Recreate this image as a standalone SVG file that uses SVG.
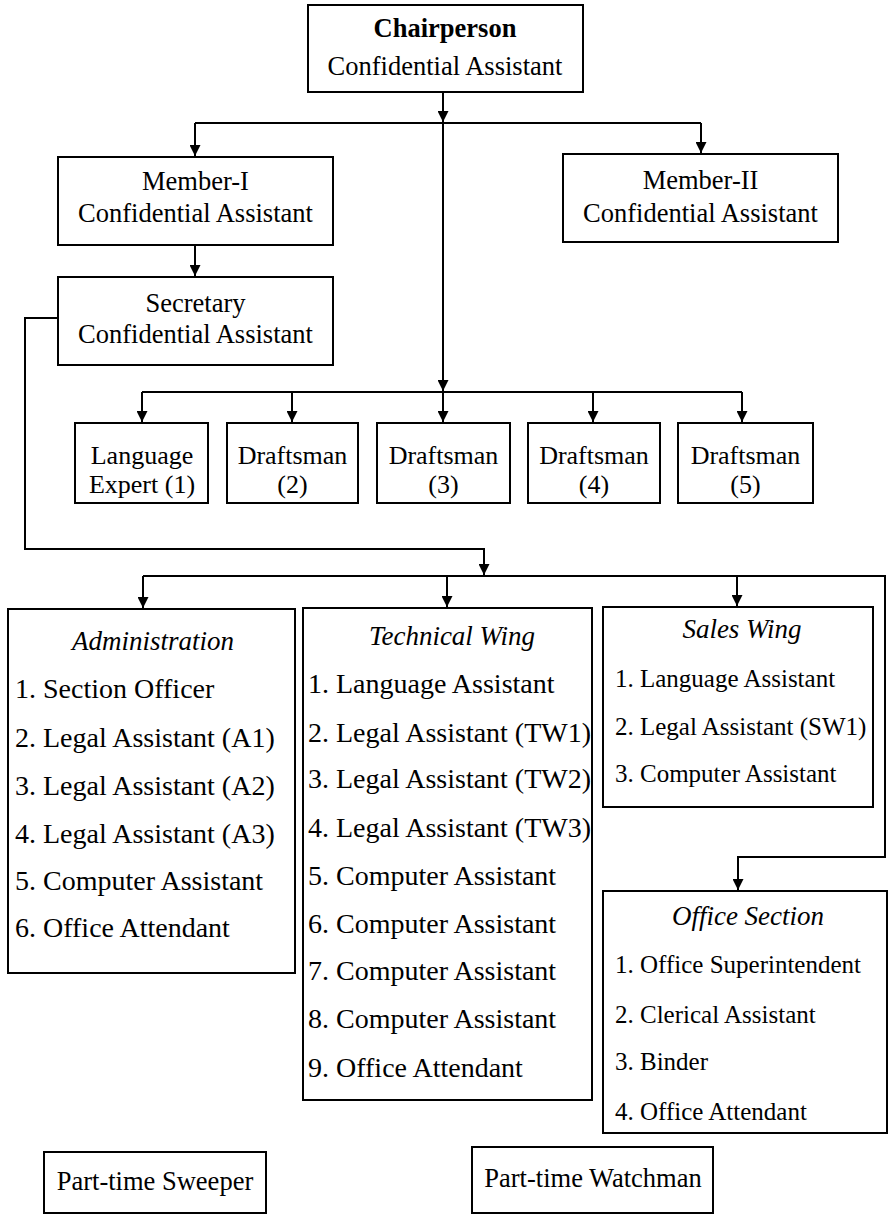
<svg xmlns="http://www.w3.org/2000/svg" width="890" height="1214" viewBox="0 0 890 1214">
<style>
text{font-family:"Liberation Serif","Times New Roman",serif;fill:#000;}
.box{fill:#fff;stroke:#000;stroke-width:2;}
.t{font-size:26.5px;text-anchor:middle;}
.b{font-weight:bold;}
.s{font-size:26px;text-anchor:middle;}
.h{font-size:27px;font-style:italic;text-anchor:middle;}
.li{font-size:28px;}
.ls{font-size:25px;}
.conn path{fill:none;stroke:#000;stroke-width:2;}
</style>
<defs>
<marker id="arr" viewBox="0 0 10 10" refX="10" refY="5" markerWidth="11" markerHeight="11" orient="auto" markerUnits="userSpaceOnUse">
<path d="M0,0 L10,5 L0,10 z" fill="#000"/>
</marker>
</defs>
<rect width="890" height="1214" fill="#fff"/>
<g id="connectors" class="conn">
<path d="M443,92 V122" marker-end="url(#arr)"/>
<path d="M195,123 H701"/>
<path d="M195,123 V156" marker-end="url(#arr)"/>
<path d="M701,123 V153" marker-end="url(#arr)"/>
<path d="M443,123 V391" marker-end="url(#arr)"/>
<path d="M195,245 V276" marker-end="url(#arr)"/>
<path d="M142,392 H742"/>
<path d="M142,392 V422" marker-end="url(#arr)"/>
<path d="M292,392 V422" marker-end="url(#arr)"/>
<path d="M443,392 V422" marker-end="url(#arr)"/>
<path d="M593,392 V422" marker-end="url(#arr)"/>
<path d="M742,392 V422" marker-end="url(#arr)"/>
<path d="M58,318 H25 V549 H484 V575" marker-end="url(#arr)"/>
<path d="M143,576 H885 V857 H738 V890" marker-end="url(#arr)"/>
<path d="M143,576 V608" marker-end="url(#arr)"/>
<path d="M447,576 V607" marker-end="url(#arr)"/>
<path d="M737,576 V606" marker-end="url(#arr)"/>
</g>
<g id="chairperson">
<rect class="box" x="308" y="5" width="275" height="87"/>
<text class="t b" x="445" y="37">Chairperson</text>
<text class="t" x="445" y="75">Confidential Assistant</text>
</g>
<g id="member1">
<rect class="box" x="58" y="157" width="275" height="88"/>
<text class="t" x="195.5" y="190">Member-I</text>
<text class="t" x="195.5" y="222">Confidential Assistant</text>
</g>
<g id="member2">
<rect class="box" x="563" y="154" width="275" height="88"/>
<text class="t" x="700.5" y="189">Member-II</text>
<text class="t" x="700.5" y="222">Confidential Assistant</text>
</g>
<g id="secretary">
<rect class="box" x="58" y="277" width="275" height="88"/>
<text class="t" x="195.5" y="312">Secretary</text>
<text class="t" x="195.5" y="343">Confidential Assistant</text>
</g>
<g id="language-expert">
<rect class="box" x="75" y="423" width="133" height="80"/>
<text class="s" x="142" y="464">Language</text>
<text class="s" x="142" y="493">Expert (1)</text>
</g>
<g id="draftsman2">
<rect class="box" x="227" y="423" width="131" height="80"/>
<text class="s" x="292.5" y="464">Draftsman</text>
<text class="s" x="292.5" y="493">(2)</text>
</g>
<g id="draftsman3">
<rect class="box" x="377" y="423" width="133" height="80"/>
<text class="s" x="443.5" y="464">Draftsman</text>
<text class="s" x="443.5" y="493">(3)</text>
</g>
<g id="draftsman4">
<rect class="box" x="528" y="423" width="132" height="80"/>
<text class="s" x="594" y="464">Draftsman</text>
<text class="s" x="594" y="493">(4)</text>
</g>
<g id="draftsman5">
<rect class="box" x="678" y="423" width="135" height="80"/>
<text class="s" x="745.5" y="464">Draftsman</text>
<text class="s" x="745.5" y="493">(5)</text>
</g>
<g id="administration">
<rect class="box" x="8" y="609" width="287" height="364"/>
<text class="h" x="153" y="650">Administration</text>
<text class="li" x="15" y="698">1. Section Officer</text>
<text class="li" x="15" y="747">2. Legal Assistant (A1)</text>
<text class="li" x="15" y="795">3. Legal Assistant (A2)</text>
<text class="li" x="15" y="843">4. Legal Assistant (A3)</text>
<text class="li" x="15" y="890">5. Computer Assistant</text>
<text class="li" x="15" y="937">6. Office Attendant</text>
</g>
<g id="technical-wing">
<rect class="box" x="303" y="608" width="289" height="492"/>
<text class="h" x="452" y="645">Technical Wing</text>
<text class="li" x="308" y="693">1. Language Assistant</text>
<text class="li" x="308" y="742">2. Legal Assistant (TW1)</text>
<text class="li" x="308" y="788">3. Legal Assistant (TW2)</text>
<text class="li" x="308" y="837">4. Legal Assistant (TW3)</text>
<text class="li" x="308" y="885">5. Computer Assistant</text>
<text class="li" x="308" y="933">6. Computer Assistant</text>
<text class="li" x="308" y="980">7. Computer Assistant</text>
<text class="li" x="308" y="1028">8. Computer Assistant</text>
<text class="li" x="308" y="1077">9. Office Attendant</text>
</g>
<g id="sales-wing">
<rect class="box" x="603" y="607" width="270" height="200"/>
<text class="h" x="742" y="638">Sales Wing</text>
<text class="ls" x="615" y="687">1. Language Assistant</text>
<text class="ls" x="615" y="735">2. Legal Assistant (SW1)</text>
<text class="ls" x="615" y="782">3. Computer Assistant</text>
</g>
<g id="office-section">
<rect class="box" x="603" y="891" width="284" height="242"/>
<text class="h" x="748" y="925">Office Section</text>
<text class="ls" x="615" y="973">1. Office Superintendent</text>
<text class="ls" x="615" y="1023">2. Clerical Assistant</text>
<text class="ls" x="615" y="1070">3. Binder</text>
<text class="ls" x="615" y="1120">4. Office Attendant</text>
</g>
<g id="part-time-sweeper">
<rect class="box" x="44" y="1152" width="222" height="61"/>
<text class="t" x="155" y="1190">Part-time Sweeper</text>
</g>
<g id="part-time-watchman">
<rect class="box" x="472" y="1147" width="241" height="66"/>
<text class="t" x="593" y="1187">Part-time Watchman</text>
</g>
</svg>
